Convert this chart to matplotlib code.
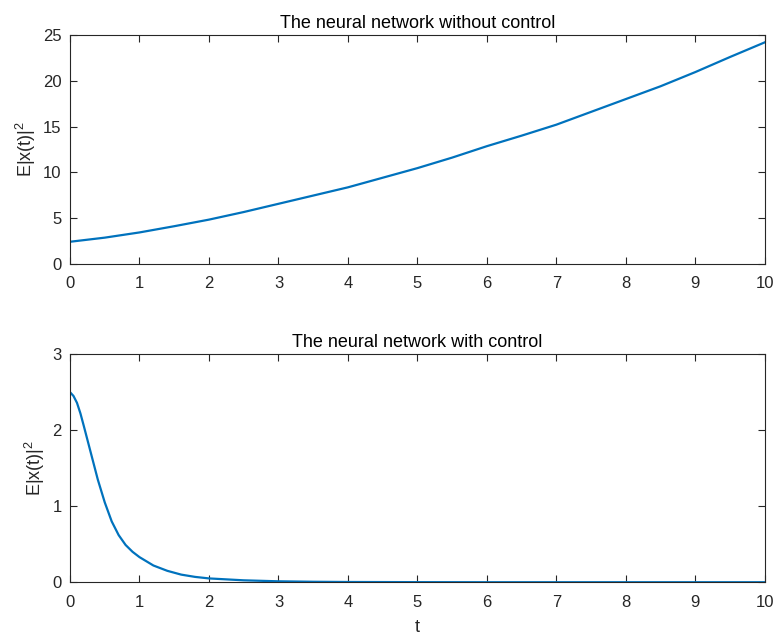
import numpy as np
import matplotlib.pyplot as plt

plt.rcParams['font.family'] = ['Liberation Sans', 'DejaVu Sans']
plt.rcParams['mathtext.fontset'] = 'custom'
plt.rcParams['mathtext.rm'] = 'Liberation Sans'

# ---- data ----
t_top = [0, 0.5, 1, 1.5, 2, 2.5, 3, 3.5, 4, 4.5, 5, 5.5, 6, 6.5, 7, 7.5, 8, 8.5, 9, 9.5, 10]
e_top = [2.4, 2.85, 3.42, 4.1, 4.82, 5.65, 6.55, 7.45, 8.35, 9.4, 10.45, 11.6, 12.85, 14.0,
         15.2, 16.6, 18.0, 19.4, 20.95, 22.6, 24.2]

t_bot = [0, 0.05, 0.1, 0.15, 0.2, 0.3, 0.4, 0.5, 0.6, 0.7, 0.8, 0.9, 1.0, 1.2, 1.4, 1.6, 1.8,
         2.0, 2.5, 3, 3.5, 4, 5, 6, 7, 8, 9, 10]
e_bot = [2.5, 2.45, 2.36, 2.22, 2.05, 1.7, 1.35, 1.05, 0.8, 0.62, 0.49, 0.4, 0.33, 0.22,
         0.15, 0.10, 0.07, 0.05, 0.025, 0.012, 0.006, 0.003, 0.001, 0, 0, 0, 0, 0]

titles = ["The neural network without control", "The neural network with control"]
line_color = "#0072BD"
axis_color = "#262626"

fig = plt.figure(figsize=(7.78, 6.37), dpi=100)
ax1 = fig.add_axes([0.090, 0.586, 0.893, 0.359])
ax2 = fig.add_axes([0.090, 0.086, 0.893, 0.358])

for ax in (ax1, ax2):
    ax.tick_params(direction='in', top=True, right=True, labelsize=12,
                   colors=axis_color, length=5)
    ax.tick_params(axis='x', pad=9)
    ax.tick_params(axis='y', pad=6)
    for s in ax.spines.values():
        s.set_color(axis_color)
        s.set_linewidth(0.8)
    ax.set_xlim(0, 10)
    ax.set_xticks(range(0, 11))
    ax.set_ylabel(r'E|x(t)|$^2$', fontsize=13, color=axis_color)

ax1.plot(t_top, e_top, color=line_color, lw=1.6)
ax1.set_ylim(0, 25)
ax1.set_yticks([0, 5, 10, 15, 20, 25])
ax1.set_title(titles[0], fontsize=13, color='black', pad=5)

ax2.plot(t_bot, e_bot, color=line_color, lw=1.6)
ax2.set_ylim(0, 3)
ax2.set_yticks([0, 1, 2, 3])
ax2.set_title(titles[1], fontsize=13, color='black', pad=5)
ax2.set_xlabel('t', fontsize=13, color=axis_color, labelpad=7)

fig.savefig("out.png", dpi=100)
